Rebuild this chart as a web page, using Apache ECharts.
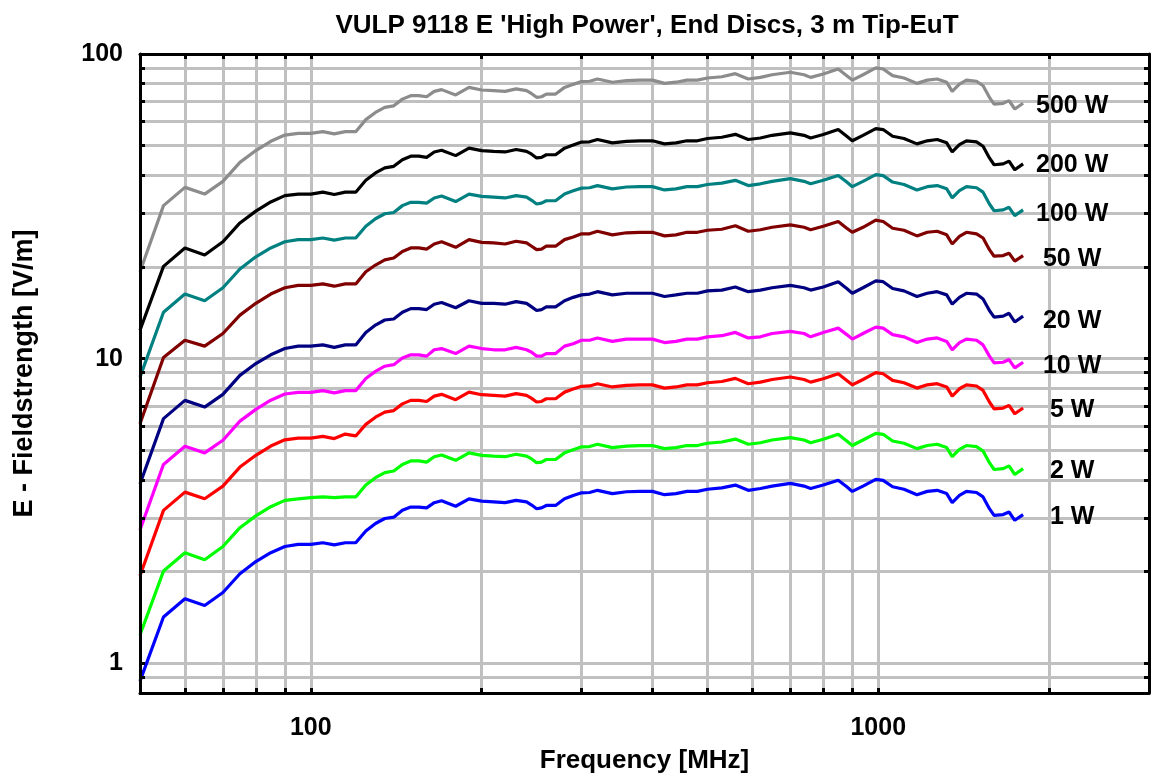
<!DOCTYPE html>
<html>
<head>
<meta charset="utf-8">
<script src="https://cdn.jsdelivr.net/npm/echarts@6/dist/echarts.min.js"></script>
<style>
html,body{margin:0;padding:0;background:#fff;}
#chart{width:1151px;height:773px;}
</style>
</head>
<body>
<div id="chart"></div>
<script>
// ---- data ----
const titleText = "VULP 9118 E 'High Power', End Discs, 3 m Tip-EuT";
const xName = 'Frequency [MHz]';
const yName = 'E - Fieldstrength [V/m]';

const freqs = [50,55,60,65,70,75,80,85,90,95,100,105,110,115,120,125,130,135,140,145,
  150,155,160,165,170,180,190,200,210,220,230,240,245,250,255,260,270,280,290,300,
  310,320,340,360,380,400,420,440,460,480,500,530,560,590,620,650,700,740,760,800,
  850,880,900,940,990,1020,1060,1110,1170,1220,1270,1320,1350,1390,1430,1490,1530,1570,1600,1660,
  1700,1740,1800];

const w500 = [19.3,31.8,36.5,34.7,38.2,44.1,48.2,51.7,54.2,54.9,54.9,55.6,54.7,55.6,55.6,60.9,64.3,66.8,67.6,71.1,
  73.0,73.0,72.4,75.4,76.4,73.4,77.7,76.2,75.8,75.4,76.8,75.8,74.1,72.1,72.4,73.9,73.9,77.7,79.5,81.2,
  81.4,82.8,80.8,81.8,82.1,82.1,80.1,80.8,82.1,82.1,83.4,84.2,86.2,82.8,83.8,85.5,87.1,85.5,83.8,86.0,
  89.3,84.9,82.1,85.5,90.0,89.3,84.9,83.4,80.1,82.1,82.8,80.8,75.4,79.7,82.1,81.4,78.7,72.1,68.5,68.9,
  70.3,66.0,68.9];
const w200 = [12.4,20.1,23.1,21.9,24.2,27.9,30.5,32.7,34.3,34.7,34.7,35.2,34.6,35.2,35.2,38.5,40.7,42.3,42.8,45.0,
  46.2,46.2,45.8,47.7,48.3,46.4,49.1,48.2,47.9,47.7,48.6,47.9,46.9,45.6,45.8,46.7,46.7,49.1,50.3,51.4,
  51.5,52.4,51.1,51.7,51.9,51.9,50.7,51.1,51.9,51.9,52.8,53.3,54.5,52.4,53.0,54.1,55.1,54.1,53.0,54.4,
  56.5,53.7,51.9,54.1,56.9,56.5,53.7,52.8,50.7,51.9,52.4,51.1,47.7,50.4,51.9,51.5,49.8,45.6,43.3,43.6,
  44.5,41.7,43.6];
const w100 = [8.7,14.2,16.3,15.5,17.1,19.7,21.6,23.1,24.2,24.6,24.6,24.9,24.5,24.9,24.9,27.2,28.8,29.9,30.2,31.8,
  32.6,32.6,32.4,33.7,34.2,32.8,34.7,34.1,33.9,33.7,34.3,33.9,33.1,32.2,32.4,33.0,33.0,34.7,35.6,36.3,
  36.4,37.0,36.1,36.6,36.7,36.7,35.8,36.1,36.7,36.7,37.3,37.7,38.5,37.0,37.5,38.2,39.0,38.2,37.5,38.5,
  39.9,38.0,36.7,38.2,40.2,39.9,38.0,37.3,35.8,36.7,37.0,36.1,33.7,35.6,36.7,36.4,35.2,32.2,30.6,30.8,
  31.4,29.5,30.8];
const w50 = [6.12,10.1,11.5,11.0,12.1,13.9,15.2,16.3,17.1,17.4,17.4,17.6,17.3,17.6,17.6,19.3,20.3,21.1,21.4,22.5,
  23.1,23.1,22.9,23.8,24.2,23.2,24.6,24.1,24.0,23.8,24.3,24.0,23.4,22.8,22.9,23.4,23.4,24.6,25.1,25.7,
  25.7,26.2,25.5,25.9,26.0,26.0,25.3,25.5,26.0,26.0,26.4,26.6,27.3,26.2,26.5,27.0,27.5,27.0,26.5,27.2,
  28.2,26.8,26.0,27.0,28.5,28.2,26.8,26.4,25.3,26.0,26.2,25.5,23.8,25.2,26.0,25.7,24.9,22.8,21.7,21.8,
  22.2,20.9,21.8];
const w20 = [3.88,6.36,7.30,6.94,7.64,8.82,9.64,10.3,10.8,11.0,11.0,11.1,10.9,11.1,11.1,12.2,12.9,13.4,13.5,14.2,
  14.6,14.6,14.5,15.1,15.3,14.7,15.5,15.2,15.2,15.1,15.4,15.2,14.8,14.4,14.5,14.8,14.8,15.5,15.9,16.2,
  16.3,16.6,16.2,16.4,16.4,16.4,16.0,16.2,16.4,16.4,16.7,16.8,17.2,16.6,16.8,17.1,17.4,17.1,16.8,17.2,
  17.9,17.0,16.4,17.1,18.0,17.9,17.0,16.7,16.0,16.4,16.6,16.2,15.1,15.9,16.4,16.3,15.7,14.4,13.7,13.8,
  14.1,13.2,13.8];
const w10 = [2.74,4.50,5.16,4.91,5.40,6.24,6.82,7.31,7.66,7.76,7.76,7.86,7.73,7.86,7.86,8.61,9.09,9.45,9.56,10.05,
  10.3,10.3,10.2,10.7,10.8,10.4,11.0,10.8,10.7,10.7,10.9,10.7,10.5,10.2,10.2,10.4,10.4,11.0,11.2,11.5,
  11.5,11.7,11.4,11.6,11.6,11.6,11.3,11.4,11.6,11.6,11.8,11.9,12.2,11.7,11.8,12.1,12.3,12.1,11.8,12.2,
  12.6,12.0,11.6,12.1,12.7,12.6,12.0,11.8,11.3,11.6,11.7,11.4,10.7,11.3,11.6,11.5,11.1,10.2,9.69,9.74,
  9.94,9.33,9.74];
const w5 = [1.94,3.18,3.65,3.47,3.82,4.41,4.82,5.17,5.42,5.49,5.49,5.56,5.47,5.66,5.58,6.09,6.43,6.68,6.76,7.11,
  7.30,7.30,7.24,7.54,7.64,7.34,7.77,7.62,7.58,7.54,7.68,7.58,7.41,7.21,7.24,7.39,7.39,7.77,7.95,8.12,
  8.14,8.28,8.08,8.18,8.21,8.21,8.01,8.08,8.21,8.21,8.34,8.42,8.62,8.28,8.38,8.55,8.71,8.55,8.38,8.60,
  8.93,8.49,8.21,8.55,9.00,8.93,8.49,8.34,8.01,8.21,8.28,8.08,7.54,7.97,8.21,8.14,7.87,7.21,6.85,6.89,
  7.03,6.60,6.89];
const w2 = [1.24,2.01,2.31,2.19,2.42,2.79,3.05,3.27,3.43,3.47,3.50,3.52,3.50,3.52,3.52,3.85,4.07,4.23,4.28,4.50,
  4.62,4.62,4.58,4.77,4.83,4.64,4.91,4.82,4.79,4.77,4.86,4.79,4.69,4.56,4.58,4.67,4.67,4.91,5.03,5.14,
  5.15,5.24,5.11,5.17,5.19,5.19,5.07,5.11,5.19,5.19,5.28,5.33,5.45,5.24,5.30,5.41,5.51,5.41,5.30,5.44,
  5.65,5.37,5.19,5.41,5.69,5.65,5.37,5.28,5.07,5.19,5.24,5.11,4.77,5.04,5.19,5.15,4.98,4.56,4.33,4.36,
  4.45,4.17,4.36];
const w1 = [0.875,1.42,1.63,1.55,1.71,1.97,2.16,2.31,2.42,2.46,2.46,2.49,2.45,2.49,2.49,2.72,2.88,2.99,3.02,3.18,
  3.26,3.26,3.24,3.37,3.42,3.28,3.47,3.41,3.39,3.37,3.43,3.39,3.31,3.22,3.24,3.30,3.30,3.47,3.56,3.63,
  3.64,3.70,3.61,3.66,3.67,3.67,3.58,3.61,3.67,3.67,3.73,3.77,3.85,3.70,3.75,3.82,3.90,3.82,3.75,3.85,
  3.99,3.80,3.67,3.82,4.02,3.99,3.80,3.73,3.58,3.67,3.70,3.61,3.37,3.56,3.67,3.64,3.52,3.22,3.06,3.08,
  3.14,2.95,3.08];

const seriesNames = ['500 W','200 W','100 W','50 W','20 W','10 W','5 W','2 W','1 W'];
const seriesValues = [w500,w200,w100,w50,w20,w10,w5,w2,w1];
const seriesColors = ['#8c8c8c','#000000','#008080','#800000','#000080','#ff00ff','#ff0000','#00ff00','#0000ff'];
const labelDy = [3,1,4,3.5,4.7,3.8,2,2.5,2.5];

const xGridValues = [60,70,80,90,100,200,300,400,500,600,700,800,900,1000,2000];
const yGridValues = [0.9,1,2,3,4,5,6,7,8,9,10,20,30,40,50,60,70,80,90];
const xLabelValues = [100,1000];
const yLabelValues = [1,10,100];
const xRange = [50,3000];
const yRange = [0.8,100];

// ---- chart ----
const FONT = "'Liberation Sans', Arial, Helvetica, sans-serif";
const chart = echarts.init(document.getElementById('chart'), null, {renderer:'canvas'});

function logAxis(isX, pos, withLabels){
  const range = isX ? xRange : yRange;
  return {
    type:'log', logBase:10, position:pos, min:range[0], max:range[1], z:6,
    name: withLabels ? (isX ? xName : yName) : '',
    nameLocation:'middle',
    nameGap: isX ? 55 : 102,
    nameRotate: isX ? 0 : 90,
    nameTextStyle:{fontFamily:FONT, fontWeight:'bold', fontSize: isX ? 26 : 27, color:'#000'},
    axisLine:{show:true, onZero:false, lineStyle:{color:'#000', width:3}},
    axisTick:{show:true, inside:true, length:5, customValues: isX ? xGridValues : yGridValues,
      lineStyle:{color:'#000', width:3}},
    axisLabel:{show:withLabels, customValues: isX ? xLabelValues : yLabelValues,
      margin: isX ? 23 : 17,
      fontFamily:FONT, fontWeight:'bold', fontSize:25, color:'#000',
      formatter: v => String(Math.round(v))},
    splitLine:{show:false}, minorTick:{show:false}, minorSplitLine:{show:false}
  };
}

const gridLineSeries = {
  type:'line', data:[], z:1, silent:true, xAxisIndex:0, yAxisIndex:0,
  markLine:{
    z:1, zlevel:0,
    silent:true, symbol:['none','none'], animation:false,
    label:{show:false},
    lineStyle:{color:'#c0c0c0', width:3, type:'solid'},
    emphasis:{disabled:true},
    data: xGridValues.map(v => ({xAxis:v})).concat(yGridValues.map(v => ({yAxis:v})))
  }
};

const dataSeries = seriesNames.map((name,i) => ({
  type:'line', name:name, z:3,
  xAxisIndex:0, yAxisIndex:0,
  data: freqs.map((f,k) => [f, seriesValues[i][k]]),
  showSymbol:false, symbol:'none', smooth:false,
  lineStyle:{color:seriesColors[i], width:3.2},
  itemStyle:{color:seriesColors[i]},
  emphasis:{disabled:true},
  endLabel:{show:true, formatter:name, distance:0, align:'center',
    offset:[49, labelDy[i]],
    fontFamily:FONT, fontWeight:'bold', fontSize:25, color:'#000'}
}));

chart.setOption({
  animation:false,
  backgroundColor:'#fff',
  title:{text:titleText, left:642, top:8, textAlign:'center',
    textStyle:{fontFamily:FONT, fontWeight:'bold', fontSize:26, color:'#000'}},
  grid:{left:140, right:2, top:54, bottom:80, containLabel:false, outerBoundsMode:'none', show:false},
  xAxis:[logAxis(true,'bottom',true), logAxis(true,'top',false)],
  yAxis:[logAxis(false,'left',true), logAxis(false,'right',false)],
  series:[gridLineSeries].concat(dataSeries)
});
</script>
</body>
</html>
